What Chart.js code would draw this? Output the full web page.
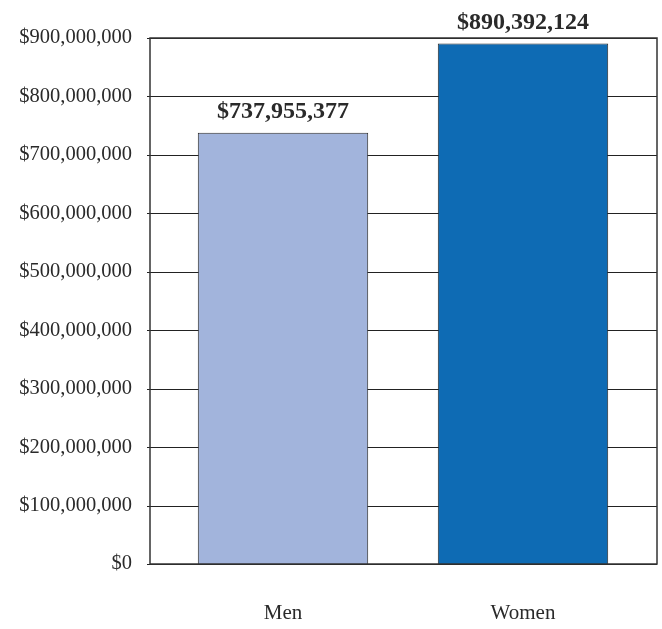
<!DOCTYPE html>
<html>
<head>
<meta charset="utf-8">
<script src="https://cdn.jsdelivr.net/npm/chart.js@4"></script>
<style>
html,body{margin:0;padding:0;background:#fff;}
#wrap{width:662px;height:629px;position:relative;}
</style>
</head>
<body>
<div id="wrap"><canvas id="c" width="662" height="629"></canvas></div>
<script>
const categories = ["Men", "Women"];
const values = [737955377, 890392124];
const valueLabels = ["$737,955,377", "$890,392,124"];
const barColors = ["#a2b4dc", "#0e6bb4"];
const yMin = 0;
const yMax = 900000000;
const yStep = 100000000;

function money(v){ return "$" + Number(v).toLocaleString("en-US"); }

// plot frame extends a bit beyond the category area on both sides
const FRAME_LEFT_EXTRA = 13;
const FRAME_RIGHT_EXTRA = 14;

const gridPlugin = {
  id: "gridframe",
  beforeDatasetsDraw(chart){
    const a = chart.chartArea, ctx = chart.ctx, y = chart.scales.y;
    const L = a.left - FRAME_LEFT_EXTRA, R = a.right + FRAME_RIGHT_EXTRA;
    ctx.save();
    ctx.strokeStyle = "#222";
    ctx.lineWidth = 1;
    y.ticks.forEach(t => {
      const py = Math.round(y.getPixelForValue(t.value)) + 0.5;
      ctx.beginPath();
      ctx.moveTo(L - 3, py);
      ctx.lineTo(R, py);
      ctx.stroke();
    });
    ctx.restore();
  },
  afterDatasetsDraw(chart){
    const a = chart.chartArea, ctx = chart.ctx;
    const L = a.left - FRAME_LEFT_EXTRA, R = a.right + FRAME_RIGHT_EXTRA;
    ctx.save();
    ctx.strokeStyle = "#333";
    ctx.lineWidth = 1.5;
    ctx.strokeRect(L, a.top, R - L, a.bottom - a.top);
    ctx.restore();
  }
};
const labelPlugin = {
  id: "vlabels",
  afterDatasetsDraw(chart){
    const ctx = chart.ctx;
    const meta = chart.getDatasetMeta(0);
    ctx.save();
    ctx.font = "bold 24px 'Liberation Serif', serif";
    ctx.fillStyle = "#2a2a2a";
    ctx.textAlign = "center";
    ctx.textBaseline = "alphabetic";
    meta.data.forEach((bar, i) => {
      ctx.fillText(valueLabels[i], bar.x, bar.y - 15);
    });
    ctx.restore();
  }
};

new Chart(document.getElementById("c"), {
  type: "bar",
  data: {
    labels: categories,
    datasets: [{
      data: values,
      backgroundColor: barColors,
      borderColor: "#2a2a2a",
      borderWidth: 1,
      barPercentage: 1,
      categoryPercentage: 0.71
    }]
  },
  options: {
    responsive: false,
    animation: false,
    devicePixelRatio: 1,
    layout: { padding: { top: 38, right: 19, left: 0, bottom: 0 } },
    plugins: { legend: { display: false }, tooltip: { enabled: false } },
    scales: {
      x: {
        grid: { display: false, drawTicks: false },
        border: { display: false },
        ticks: { color: "#2a2a2a", padding: 37, font: { family: "'Liberation Serif', serif", size: 21 } },
        afterFit(s){ s.height = 65; s.paddingLeft = 0; s.paddingRight = 0; }
      },
      y: {
        min: yMin, max: yMax,
        grid: { display: false, drawTicks: false },
        border: { display: false },
        ticks: {
          stepSize: yStep,
          color: "#2a2a2a",
          padding: 31,
          font: { family: "'Liberation Serif', serif", size: 20.5 },
          callback: (v) => money(v)
        },
        afterFit(s){ s.width = 163; s.paddingTop = 0; s.paddingBottom = 0; }
      }
    }
  },
  plugins: [gridPlugin, labelPlugin]
});
</script>
</body>
</html>
